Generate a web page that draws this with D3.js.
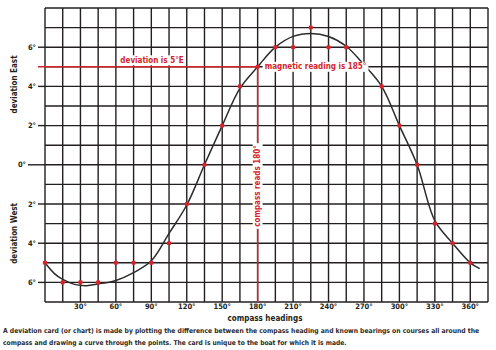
<!DOCTYPE html>
<html>
<head>
<meta charset="utf-8">
<script src="https://cdn.jsdelivr.net/npm/d3@7"></script>
<style>
  html, body { margin: 0; padding: 0; background: #fff; }
  svg { display: block; }
  text { font-family: "Liberation Sans Narrow", "DejaVu Sans Condensed", "Liberation Sans", Arial, sans-serif; font-weight: bold; }
</style>
</head>
<body>
<svg id="chart" width="496" height="350"></svg>
<script>
// Deviation observed on each compass heading (degrees; + = East, - = West)
const headings   = [0, 15, 30, 45, 60, 75, 90, 105, 120, 135, 150, 165, 180, 195, 210, 225, 240, 255, 270, 285, 300, 315, 330, 345, 360];
const deviations = [-5, -6, -6, -6, -5, -5, -5, -4, -2, 0, 2, 4, 5, 6, 6, 7, 6, 6, 5.1, 4, 2, 0, -3, -4, -5];

// Smooth curve drawn through the points
const curveHeadings   = [0, 8, 15, 25, 35, 45, 60, 75, 90, 105, 120, 135, 150, 165, 180, 195, 210, 225, 240, 255, 270, 285, 300, 315, 330, 345, 360, 368];
const curveDeviations = [-5, -5.55, -5.85, -6.1, -6.17, -6.08, -5.9, -5.5, -4.9, -3.5, -2.05, 0, 2, 3.9, 5, 6.0, 6.55, 6.7, 6.55, 6.05, 5.1, 4.0, 2.0, 0, -2.85, -4.0, -5.0, -5.3];

// Axis tick labels
const xTickValues = [30, 60, 90, 120, 150, 180, 210, 240, 270, 300, 330, 360];
const xTickLabels = ["30°", "60°", "90°", "120°", "150°", "180°", "210°", "240°", "270°", "300°", "330°", "360°"];
const yTickValues = [6, 4, 2, 0, -2, -4, -6];
const yTickLabels = ["6°", "4°", "2°", "0°", "2°", "4°", "6°"];

// Worked example
const exampleHeading = 180;
const exampleDeviation = 5;
const deviationNote = "deviation is 5°E";
const magneticNote = "magnetic reading is 185°";
const compassNote = "compass reads 180°";

const captionLines = [
  "A deviation card (or chart) is made by plotting the difference between the compass heading and known bearings on courses all around the",
  "compass and drawing a curve through the points. The card is unique to the boat for which it is made."
];

const RED = "#d4242b";
const INK = "#231f20";

const svg = d3.select("#chart");
const x = d3.scaleLinear().domain([0, 375]).range([45, 488]);
const y = d3.scaleLinear().domain([-7, 8]).range([302, 8]);

// Grid: one column per 15°, one row per degree
const grid = svg.append("g").attr("stroke", INK).attr("stroke-width", 1.4);
grid.selectAll("line.v").data(d3.range(0, 376, 15)).join("line")
  .attr("class", "v")
  .attr("x1", d => x(d)).attr("x2", d => x(d))
  .attr("y1", y(8)).attr("y2", y(-7));
grid.selectAll("line.h").data(d3.range(-7, 9, 1)).join("line")
  .attr("class", "h")
  .attr("x1", x(0)).attr("x2", x(375))
  .attr("y1", d => y(d)).attr("y2", d => y(d));

// Y ticks extend to the left of the frame; the zero line reaches further
const yAxis = svg.append("g");
yAxis.selectAll("line").data(yTickValues).join("line")
  .attr("stroke", INK).attr("stroke-width", 1.4)
  .attr("x1", d => d === 0 ? x(0) - 17 : x(0) - 7).attr("x2", x(0))
  .attr("y1", d => y(d)).attr("y2", d => y(d));
yAxis.selectAll("text").data(yTickValues).join("text")
  .attr("x", d => d === 0 ? x(0) - 19 : x(0) - 9)
  .attr("y", d => y(d) + 2.5)
  .attr("text-anchor", "end")
  .attr("font-size", 7.5)
  .attr("fill", INK)
  .text((d, i) => yTickLabels[i]);

// X tick labels
svg.append("g").selectAll("text").data(xTickValues).join("text")
  .attr("x", d => x(d))
  .attr("y", 309)
  .attr("text-anchor", "middle")
  .attr("font-size", 7.5)
  .attr("fill", INK)
  .text((d, i) => xTickLabels[i]);

svg.append("text")
  .attr("x", 265).attr("y", 321)
  .attr("text-anchor", "middle")
  .attr("font-size", 8)
  .attr("fill", INK)
  .text("compass headings");

// Axis titles
svg.append("text")
  .attr("transform", `translate(17,${y(4.1)}) rotate(-90)`)
  .attr("text-anchor", "middle")
  .attr("font-size", 8)
  .attr("fill", INK)
  .text("deviation East");
svg.append("text")
  .attr("transform", `translate(17,${y(-3.5)}) rotate(-90)`)
  .attr("text-anchor", "middle")
  .attr("font-size", 8)
  .attr("fill", INK)
  .text("deviation West");

// Example guide lines
svg.append("line")
  .attr("stroke", RED).attr("stroke-width", 1.5)
  .attr("x1", x(0) - 7).attr("x2", x(exampleHeading))
  .attr("y1", y(exampleDeviation)).attr("y2", y(exampleDeviation));
svg.append("line")
  .attr("stroke", RED).attr("stroke-width", 1.5)
  .attr("x1", x(exampleHeading)).attr("x2", x(exampleHeading))
  .attr("y1", y(exampleDeviation)).attr("y2", y(-7) + 1);

// Deviation curve
const line = d3.line()
  .x((d, i) => x(curveHeadings[i]))
  .y(d => y(d))
  .curve(d3.curveCatmullRom.alpha(0.5));
svg.append("path")
  .datum(curveDeviations)
  .attr("d", line)
  .attr("fill", "none")
  .attr("stroke", "#2b2b2b")
  .attr("stroke-width", 1.5);

// Observed points
svg.append("g").selectAll("circle").data(deviations).join("circle")
  .attr("cx", (d, i) => x(headings[i]))
  .attr("cy", d => y(d))
  .attr("r", 2.3)
  .attr("fill", RED);

// Red labels on a white backing
function label(g, text, size, anchor) {
  const t = g.append("text")
    .attr("font-size", size)
    .attr("fill", RED)
    .attr("text-anchor", anchor)
    .attr("dominant-baseline", "central")
    .text(text);
  const b = t.node().getBBox();
  g.insert("rect", "text")
    .attr("x", b.x - 2).attr("y", b.y - 0.5)
    .attr("width", b.width + 4).attr("height", b.height + 1)
    .attr("fill", "#fff");
  return t;
}

const g1 = svg.append("g").attr("transform", `translate(152,${y(exampleDeviation) - 6.5})`);
label(g1, deviationNote, 8, "middle");

const g2 = svg.append("g").attr("transform", `translate(${x(exampleHeading) + 7},${y(exampleDeviation)})`);
label(g2, magneticNote, 8, "start");

const g3 = svg.append("g").attr("transform", `translate(${x(exampleHeading)},186) rotate(-90)`);
label(g3, compassNote, 8, "middle");

// Caption, sized so each line spans its measured width
const cap = svg.append("g");
const captionWidths = [477, 344];
captionLines.forEach((s, i) => {
  const t = cap.append("text")
    .attr("x", 3).attr("y", 333 + i * 12)
    .attr("font-size", 10)
    .attr("fill", "#2a2a2a")
    .text(s);
  const w = t.node().getComputedTextLength();
  t.attr("font-size", Math.min(9, 10 * captionWidths[i] / w));
});
</script>
</body>
</html>
